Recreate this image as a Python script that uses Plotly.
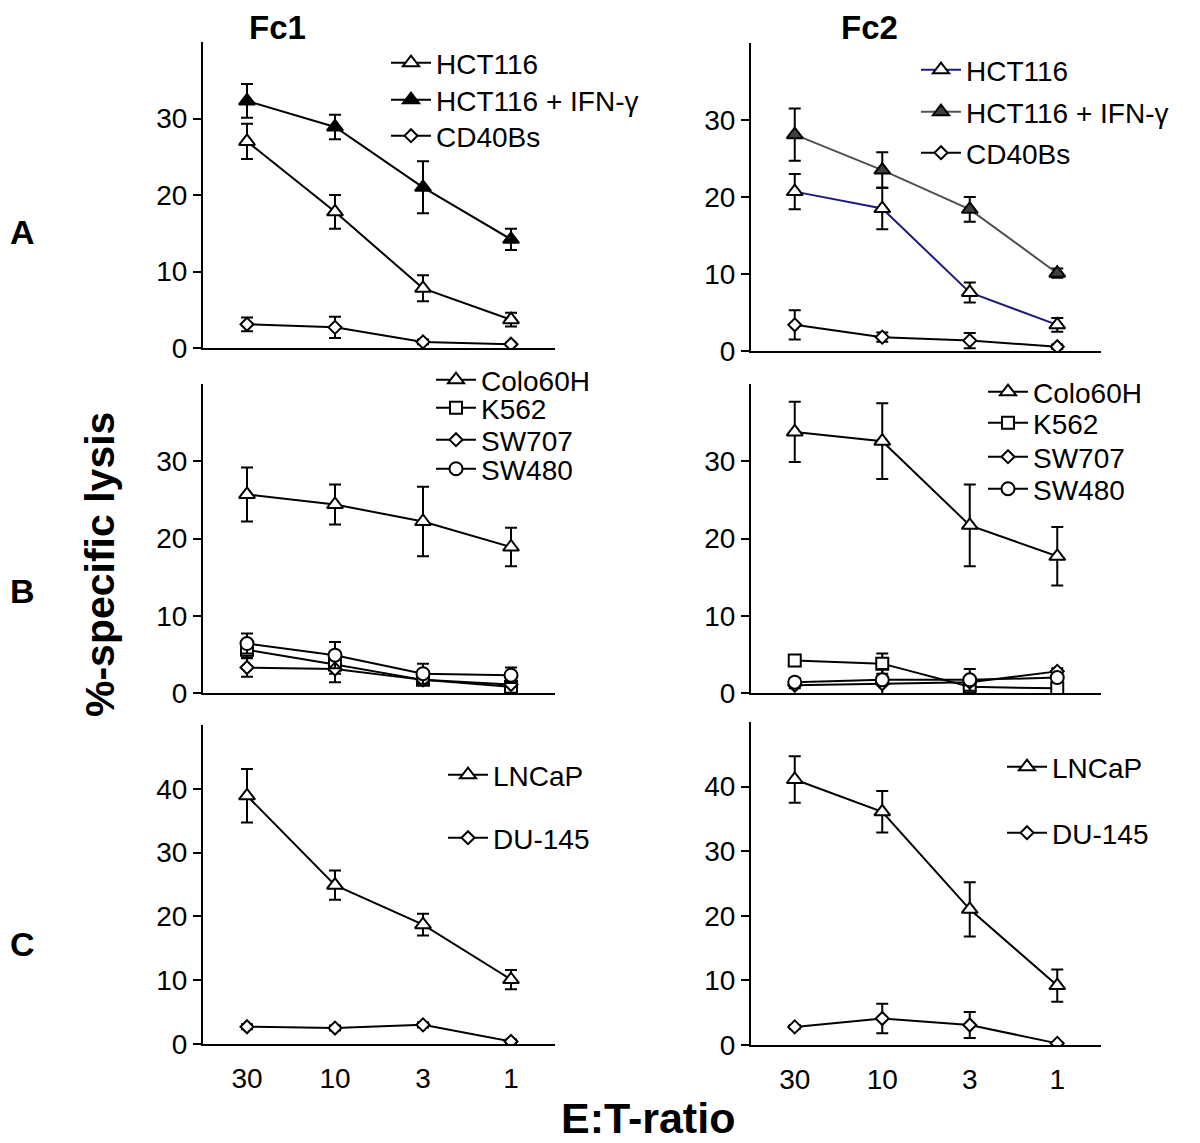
import plotly.graph_objects as go

ratios = ["30", "10", "3", "1"]

# ---- Panel A (Fc1) ----
a1_hct = [27.0, 17.8, 7.8, 3.7]
a1_hct_err = [2.3, 2.2, 1.7, 0.9]
a1_ifn = [32.3, 28.9, 21.0, 14.2]
a1_ifn_err = [2.2, 1.6, 3.4, 1.4]
a1_cd40 = [3.1, 2.7, 0.8, 0.5]
a1_cd40_err = [0.9, 1.4, 0.3, 0.2]
# ---- Panel A (Fc2) ----
a2_hct = [20.7, 18.5, 7.6, 3.4]
a2_hct_err = [2.3, 2.7, 1.3, 0.9]
a2_ifn = [28.1, 23.5, 18.4, 10.1]
a2_ifn_err = [3.4, 2.3, 1.6, 0.6]
a2_cd40 = [3.4, 1.8, 1.35, 0.55]
a2_cd40_err = [1.9, 0.6, 1.0, 0.3]
# ---- Panel B (Fc1) ----
b1_colo = [25.7, 24.4, 22.2, 18.9]
b1_colo_err = [3.5, 2.6, 4.5, 2.5]
b1_k562 = [5.6, 3.7, 1.7, 0.8]
b1_k562_err = [1.0, 1.2, 0.6, 0.4]
b1_sw707 = [3.3, 3.1, 1.7, 1.1]
b1_sw707_err = [1.2, 1.7, 0.5, 0.3]
b1_sw480 = [6.4, 4.9, 2.5, 2.3]
b1_sw480_err = [1.3, 1.7, 1.3, 1.0]
# ---- Panel B (Fc2) ----
b2_colo = [33.8, 32.6, 21.7, 17.7]
b2_colo_err = [3.9, 4.9, 5.3, 3.8]
b2_k562 = [4.2, 3.8, 0.8, 0.6]
b2_k562_err = [0.4, 1.3, 0.5, 0.4]
b2_sw707 = [1.0, 1.2, 1.4, 2.8]
b2_sw707_err = [0.4, 1.9, 0.4, 0.4]
b2_sw480 = [1.4, 1.7, 1.7, 2.0]
b2_sw480_err = [0.5, 0.5, 1.4, 0.5]
# ---- Panel C (Fc1) ----
c1_lncap = [38.9, 24.9, 18.7, 10.1]
c1_lncap_err = [4.2, 2.3, 1.7, 1.5]
c1_du145 = [2.7, 2.5, 3.0, 0.4]
c1_du145_err = [0.4, 0.4, 0.4, 0.3]
# ---- Panel C (Fc2) ----
c2_lncap = [41.1, 36.1, 21.0, 9.2]
c2_lncap_err = [3.6, 3.2, 4.2, 2.5]
c2_du145 = [2.8, 4.1, 3.1, 0.25]
c2_du145_err = [0.3, 2.3, 2.0, 0.2]

W, H = 1200, 1143
FONT = "Liberation Sans, Arial, sans-serif"

def px(x):
    return x / W

def py(y):
    return 1 - y / H

# panel geometry (pixels): x0, x1, y_zero, y_top
panels = {
    1: (203, 555, 348, 42),
    2: (751, 1101, 351, 43),
    3: (203, 555, 693, 384),
    4: (751, 1101, 693, 384),
    5: (203, 555, 1044, 725),
    6: (751, 1101, 1045, 722),
}

fig = go.Figure()
legend_count = [1]

SYM = {"tri": "triangle-up", "sq": "square", "dia": "diamond", "circ": "circle"}
SIZE = {"tri": 14, "sq": 12, "dia": 10, "circ": 13}

def add(panel, name, y, err, sym, fill="white", line="black", leg=(0, 0)):
    legend_count[0] += 1
    lname = "legend%d" % legend_count[0]
    fig.add_trace(go.Scatter(
        x=ratios, y=y, name=name, mode="lines+markers",
        xaxis="x" if panel == 1 else "x%d" % panel,
        yaxis="y" if panel == 1 else "y%d" % panel,
        line=dict(color=line, width=2),
        marker=dict(symbol=SYM[sym], size=SIZE[sym], color=fill,
                    line=dict(color="black", width=2)),
        error_y=dict(type="data", array=err, visible=True, color="black",
                     thickness=2, width=6),
        legend=lname, showlegend=True,
    ))
    fig.update_layout(**{lname: dict(
        x=px(leg[0] - 4), y=py(leg[1]), xanchor="left", yanchor="middle",
        bgcolor="rgba(0,0,0,0)", borderwidth=0, itemwidth=40,
        font=dict(family=FONT, size=28, color="black"),
    )})

add(1, "HCT116", a1_hct, a1_hct_err, "tri", leg=(390, 63))
add(1, "HCT116 + IFN-γ", a1_ifn, a1_ifn_err, "tri", fill="black", leg=(390, 100))
add(1, "CD40Bs", a1_cd40, a1_cd40_err, "dia", leg=(390, 136))

add(2, "HCT116", a2_hct, a2_hct_err, "tri", line="#1c1c7c", leg=(920, 70))
add(2, "HCT116 + IFN-γ", a2_ifn, a2_ifn_err, "tri", fill="#404040", line="#505050", leg=(920, 112))
add(2, "CD40Bs", a2_cd40, a2_cd40_err, "dia", leg=(920, 153))

add(3, "Colo60H", b1_colo, b1_colo_err, "tri", leg=(435, 380))
add(3, "K562", b1_k562, b1_k562_err, "sq", leg=(435, 408))
add(3, "SW707", b1_sw707, b1_sw707_err, "dia", leg=(435, 440))
add(3, "SW480", b1_sw480, b1_sw480_err, "circ", leg=(435, 469))

add(4, "Colo60H", b2_colo, b2_colo_err, "tri", leg=(987, 392))
add(4, "K562", b2_k562, b2_k562_err, "sq", leg=(987, 423))
add(4, "SW707", b2_sw707, b2_sw707_err, "dia", leg=(987, 457))
add(4, "SW480", b2_sw480, b2_sw480_err, "circ", leg=(987, 489))

add(5, "LNCaP", c1_lncap, c1_lncap_err, "tri", leg=(447, 775))
add(5, "DU-145", c1_du145, c1_du145_err, "dia", leg=(447, 838))

add(6, "LNCaP", c2_lncap, c2_lncap_err, "tri", leg=(1006, 767))
add(6, "DU-145", c2_du145, c2_du145_err, "dia", leg=(1006, 833))

tickfont = dict(family=FONT, size=28, color="black")
for p, (x0, x1, yz, yt) in panels.items():
    sfx = "" if p == 1 else str(p)
    bottom = p in (5, 6)
    ymax = 50 if bottom else 40
    fig.update_layout(**{
        "xaxis" + sfx: dict(
            domain=[px(x0), px(x1)], anchor="y" + sfx, type="category",
            categoryorder="array", categoryarray=ratios, range=[-0.5, 3.5],
            showline=True, linecolor="black", linewidth=2, ticks="",
            showgrid=False, zeroline=False, showticklabels=bottom,
            tickfont=tickfont, ticklabelstandoff=8, fixedrange=True,
            automargin=False,
        ),
        "yaxis" + sfx: dict(
            domain=[py(yz), py(yt)], anchor="x" + sfx, range=[0, ymax],
            tickvals=[0, 10, 20, 30, 40] if bottom else [0, 10, 20, 30],
            showline=True, linecolor="black", linewidth=2, ticks="outside",
            ticklen=8, tickwidth=2, tickcolor="black", showgrid=False,
            zeroline=False, tickfont=tickfont, fixedrange=True,
            automargin=False,
        ),
    })

ann = []
def text(x, y, s, size, bold=True, angle=0):
    ann.append(dict(x=px(x), y=py(y), xref="paper", yref="paper", text="<b>%s</b>" % s if bold else s,
                    showarrow=False, xanchor="center", yanchor="middle", textangle=angle,
                    font=dict(family=FONT, size=size, color="black")))

text(277, 28, "Fc1", 33)
text(869, 28, "Fc2", 33)
text(22, 232, "A", 34)
text(22, 591, "B", 34)
text(22, 944, "C", 34)
text(100, 565, "%-specific lysis", 41, angle=-90)
text(648, 1118, "E:T-ratio", 43)

fig.update_layout(
    width=W, height=H, margin=dict(l=0, r=0, t=0, b=0),
    paper_bgcolor="white", plot_bgcolor="white", annotations=ann,
)

fig.write_html("out.html", config={"displayModeBar": False},
               post_script="document.body.style.margin='0px';document.body.style.overflow='hidden';")
